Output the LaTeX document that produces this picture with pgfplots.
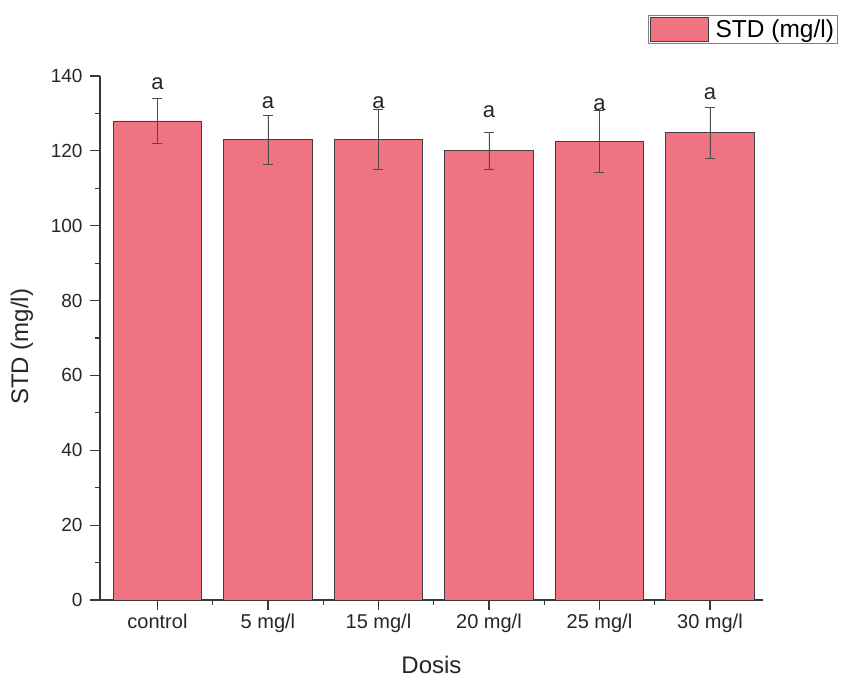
\documentclass[border=0pt]{standalone}
\usepackage{fontspec}
\setmainfont{Liberation Sans}
\usepackage{pgfplots}
\pgfplotsset{compat=1.18}
\definecolor{barfill}{RGB}{240,115,130}
\definecolor{axisgray}{RGB}{55,55,55}
\begin{document}
\begin{tikzpicture}
\begin{axis}[
  scale only axis, width=663pt, height=524pt,
  at={(0,0)}, anchor=south west,
  xmin=-0.52, xmax=5.48, ymin=0, ymax=140,
  axis x line*=bottom, axis y line*=left,
  axis line style={axisgray, line width=1.2pt},
  xtick={0,...,5},
  xticklabels={control,5 mg/l,15 mg/l,20 mg/l,25 mg/l,30 mg/l},
  minor xtick={0.5,1.5,2.5,3.5,4.5},
  ytick={0,20,...,140}, minor ytick={10,30,...,130},
  tick align=outside, major tick length=10pt, minor tick length=5pt,
  every tick/.style={axisgray, line width=1.2pt},
  /pgf/number format/assume math mode=true,
  xticklabel style={font=\fontsize{20}{22}\selectfont, text=black!85},
  yticklabel style={font=\fontsize{19}{21}\selectfont, text=black!85, xshift=-4pt},
  xlabel={Dosis}, ylabel={STD (mg/l)},
  label style={font=\fontsize{24}{28}\selectfont, text=black!85},
  xlabel style={at={(axis description cs:0.5,-0.124)}, anchor=center},
  ylabel style={at={(axis description cs:-0.1177,0.483)}, anchor=center},
  legend style={at={(axis description cs:1.113,1.116)}, anchor=north east,
    draw=gray, line width=0.8pt, font=\fontsize{24.5}{27}\selectfont,
    inner xsep=1.5pt, inner ysep=1.5pt},
]
\addplot[ybar, bar width=0.8, fill=barfill, draw=black!75, line width=0.8pt,
  legend image code/.code={\draw[fill=barfill,draw=black!75,line width=0.8pt] (0pt,-12pt) rectangle (58pt,12pt);},
  error bars/.cd, y dir=both, y explicit,
  error bar style={black!70, line width=0.7pt},
  error mark options={rotate=90, mark size=5pt, black!70, line width=0.7pt}]
coordinates {
  (0,128.0) +- (0,6.0)
  (1,123.0) +- (0,6.6)
  (2,123.0) +- (0,8.0)
  (3,120.0) +- (0,4.9)
  (4,122.6) +- (0,8.3)
  (5,124.8) +- (0,6.7)
};
\addlegendentry{\hspace*{5pt}STD (mg/l)}
\addplot[only marks, mark=none, forget plot, nodes near coords={a},
  nodes near coords style={anchor=base, inner sep=0pt, font=\fontsize{22}{24}\selectfont, text=black!85}]
coordinates {
  (0,136.3) (1,131.4) (2,131.4) (3,128.8) (4,130.9) (5,133.6)
};
\end{axis}
\pgfresetboundingbox
\path (-100pt,-77pt) rectangle (743pt,600pt);
\end{tikzpicture}
\end{document}
